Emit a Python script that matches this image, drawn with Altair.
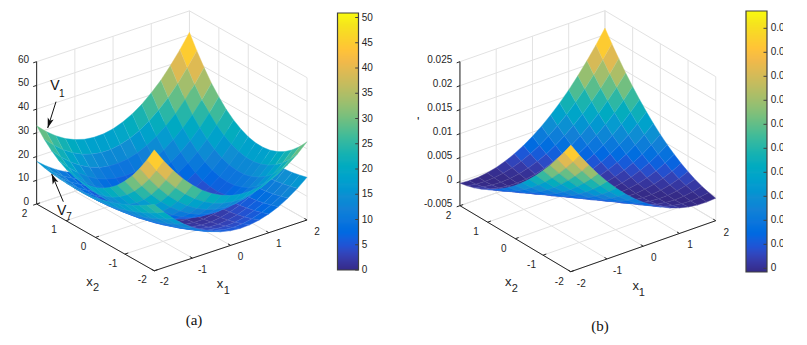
import altair as alt
import math

# ---------- values ----------
# rows: x2 = -2 ... 2 in steps of 0.25, columns: x1 = -2 ... 2 in steps of 0.25
GRID = [-2, -1.75, -1.5, -1.25, -1, -0.75, -0.5, -0.25, 0, 0.25, 0.5, 0.75, 1, 1.25, 1.5, 1.75, 2]

V1 = [
[51.0,45.0,39.6,34.8,30.8,27.3,24.6,22.5,21.0,20.2,20.1,20.6,21.8,23.6,26.1,29.2,33.0],
[45.0,39.1,33.8,29.2,25.3,22.0,19.4,17.4,16.1,15.4,15.4,16.1,17.4,19.4,22.0,25.3,29.2],
[39.6,33.8,28.7,24.2,20.4,17.3,14.8,13.0,11.8,11.3,11.4,12.2,13.7,15.8,18.6,22.0,26.1],
[34.8,29.2,24.2,19.9,16.3,13.3,10.9,9.2,8.2,7.8,8.1,9.1,10.6,12.9,15.8,19.4,23.6],
[30.8,25.3,20.4,16.3,12.8,9.9,7.7,6.1,5.3,5.0,5.4,6.5,8.3,10.6,13.7,17.4,21.8],
[27.3,22.0,17.3,13.3,9.9,7.2,5.1,3.7,3.0,2.9,3.4,4.6,6.5,9.1,12.2,16.1,20.6],
[24.6,19.4,14.8,10.9,7.7,5.1,3.2,1.9,1.3,1.4,2.1,3.4,5.4,8.1,11.4,15.4,20.1],
[22.5,17.4,13.0,9.2,6.1,3.7,1.9,0.8,0.3,0.5,1.4,2.9,5.0,7.8,11.3,15.4,20.2],
[21.0,16.1,11.8,8.2,5.3,3.0,1.3,0.3,0.0,0.3,1.3,3.0,5.3,8.2,11.8,16.1,21.0],
[20.2,15.4,11.3,7.8,5.0,2.9,1.4,0.5,0.3,0.8,1.9,3.7,6.1,9.2,13.0,17.4,22.5],
[20.1,15.4,11.4,8.1,5.4,3.4,2.1,1.4,1.3,1.9,3.2,5.1,7.7,10.9,14.8,19.4,24.6],
[20.6,16.1,12.2,9.1,6.5,4.6,3.4,2.9,3.0,3.7,5.1,7.2,9.9,13.3,17.3,22.0,27.3],
[21.8,17.4,13.7,10.6,8.3,6.5,5.4,5.0,5.3,6.1,7.7,9.9,12.8,16.3,20.4,25.3,30.8],
[23.6,19.4,15.8,12.9,10.6,9.1,8.1,7.8,8.2,9.2,10.9,13.3,16.3,19.9,24.2,29.2,34.8],
[26.1,22.0,18.6,15.8,13.7,12.2,11.4,11.3,11.8,13.0,14.8,17.3,20.4,24.2,28.7,33.8,39.6],
[29.2,25.3,22.0,19.4,17.4,16.1,15.4,15.4,16.1,17.4,19.4,22.0,25.3,29.2,33.8,39.1,45.0],
[33.0,29.2,26.1,23.6,21.8,20.6,20.1,20.2,21.0,22.5,24.6,27.3,30.8,34.8,39.6,45.0,51.0],
]

V7 = [
[28.0,23.4,19.4,15.9,12.9,10.4,8.5,7.1,6.2,5.8,6.0,6.7,7.9,9.6,11.9,14.7,18.0],
[25.9,21.4,17.5,14.0,11.1,8.8,6.9,5.6,4.8,4.5,4.7,5.5,6.8,8.6,10.9,13.8,17.2],
[24.0,19.6,15.8,12.4,9.6,7.3,5.5,4.2,3.5,3.3,3.6,4.4,5.8,7.7,10.1,13.1,16.5],
[22.3,18.0,14.2,10.9,8.2,6.0,4.3,3.1,2.4,2.3,2.7,3.6,5.1,7.0,9.5,12.5,16.1],
[20.9,16.6,12.9,9.7,7.0,4.9,3.2,2.1,1.6,1.5,2.0,3.0,4.5,6.6,9.1,12.2,15.9],
[19.5,15.4,11.7,8.6,6.0,3.9,2.4,1.4,0.9,0.9,1.5,2.5,4.1,6.3,8.9,12.1,15.8],
[18.4,14.3,10.8,7.7,5.2,3.2,1.8,0.8,0.4,0.5,1.1,2.3,4.0,6.2,8.9,12.2,15.9],
[17.5,13.5,10.0,7.1,4.6,2.7,1.3,0.4,0.1,0.3,1.0,2.2,4.0,6.3,9.1,12.4,16.3],
[16.8,12.9,9.5,6.6,4.2,2.4,1.1,0.3,0.0,0.3,1.1,2.4,4.2,6.6,9.5,12.9,16.8],
[16.3,12.4,9.1,6.3,4.0,2.2,1.0,0.3,0.1,0.4,1.3,2.7,4.6,7.1,10.0,13.5,17.5],
[15.9,12.2,8.9,6.2,4.0,2.3,1.1,0.5,0.4,0.8,1.8,3.2,5.2,7.7,10.8,14.3,18.4],
[15.8,12.1,8.9,6.3,4.1,2.5,1.5,0.9,0.9,1.4,2.4,3.9,6.0,8.6,11.7,15.4,19.5],
[15.9,12.2,9.1,6.6,4.5,3.0,2.0,1.5,1.6,2.1,3.2,4.9,7.0,9.7,12.9,16.6,20.9],
[16.1,12.5,9.5,7.0,5.1,3.6,2.7,2.3,2.4,3.1,4.3,6.0,8.2,10.9,14.2,18.0,22.3],
[16.5,13.1,10.1,7.7,5.8,4.4,3.6,3.3,3.5,4.2,5.5,7.3,9.6,12.4,15.8,19.6,24.0],
[17.2,13.8,10.9,8.6,6.8,5.5,4.7,4.5,4.8,5.6,6.9,8.8,11.1,14.0,17.5,21.4,25.9],
[18.0,14.7,11.9,9.6,7.9,6.7,6.0,5.8,6.2,7.1,8.5,10.4,12.9,15.9,19.4,23.4,28.0],
]

# panel (b), values in units of 0.001
VB = [
[21.39,18.53,15.88,13.42,11.16,9.11,7.25,5.60,4.14,2.88,1.83,0.97,0.32,-0.14,-0.40,-0.45,-0.31],
[18.99,16.31,13.82,11.53,9.45,7.56,5.87,4.39,3.10,2.01,1.13,0.44,-0.05,-0.33,-0.42,-0.31,0.01],
[16.74,14.22,11.90,9.79,7.87,6.15,4.63,3.32,2.20,1.28,0.57,0.05,-0.27,-0.39,-0.30,-0.02,0.46],
[14.61,12.26,10.12,8.17,6.42,4.87,3.53,2.38,1.43,0.68,0.13,-0.21,-0.36,-0.31,-0.06,0.40,1.05],
[12.63,10.46,8.48,6.70,5.12,3.74,2.57,1.59,0.81,0.23,-0.15,-0.32,-0.30,-0.08,0.34,0.96,1.79],
[10.79,8.78,6.97,5.36,3.95,2.75,1.74,0.93,0.32,-0.08,-0.29,-0.31,-0.11,0.28,0.87,1.66,2.65],
[9.09,7.25,5.61,4.18,2.94,1.90,1.06,0.42,-0.02,-0.26,-0.30,-0.14,0.22,0.78,1.55,2.51,3.67],
[7.53,5.86,4.39,3.12,2.05,1.18,0.51,0.04,-0.23,-0.30,-0.17,0.16,0.69,1.42,2.35,3.48,4.81],
[6.10,4.60,3.30,2.20,1.30,0.60,0.10,-0.20,-0.30,-0.20,0.10,0.60,1.30,2.20,3.30,4.60,6.10],
[4.81,3.48,2.35,1.42,0.69,0.16,-0.17,-0.30,-0.23,0.04,0.51,1.18,2.05,3.12,4.39,5.86,7.53],
[3.67,2.51,1.55,0.78,0.22,-0.14,-0.30,-0.26,-0.02,0.42,1.06,1.90,2.94,4.18,5.61,7.25,9.09],
[2.65,1.66,0.87,0.28,-0.11,-0.31,-0.29,-0.08,0.32,0.93,1.74,2.75,3.95,5.36,6.97,8.78,10.79],
[1.79,0.96,0.34,-0.08,-0.30,-0.32,-0.15,0.23,0.81,1.59,2.57,3.74,5.12,6.70,8.48,10.46,12.63],
[1.05,0.40,-0.06,-0.31,-0.36,-0.21,0.13,0.68,1.43,2.38,3.53,4.87,6.42,8.17,10.12,12.26,14.61],
[0.46,-0.02,-0.30,-0.39,-0.27,0.05,0.57,1.28,2.20,3.32,4.63,6.15,7.87,9.79,11.90,14.22,16.74],
[0.01,-0.31,-0.42,-0.33,-0.05,0.44,1.13,2.01,3.10,4.39,5.87,7.56,9.45,11.53,13.82,16.31,18.99],
[-0.31,-0.45,-0.40,-0.14,0.32,0.97,1.83,2.88,4.14,5.60,7.25,9.11,11.16,13.42,15.88,18.53,21.39],
]

XTICKS = [-2, -1, 0, 1, 2]
Z_TICKS_A = [0, 10, 20, 30, 40, 50, 60]
Z_TICKS_B = [-0.005, 0, 0.005, 0.01, 0.015, 0.02, 0.025]
Z_LABELS_B = ["-0.005", "0", "0.005", "0.01", "0.015", "0.02", "0.025"]
CB_TICKS_A = [0, 5, 10, 15, 20, 25, 30, 35, 40, 45, 50]
CB_TICKS_B = [0, 0.002, 0.004, 0.006, 0.008, 0.01, 0.012, 0.014, 0.016, 0.018, 0.02]
CB_DOMAIN_A = [0, 51]
CB_DOMAIN_B = [-0.0003, 0.0214]

PARULA = ["#352a87", "#353dad", "#2053d4", "#0268e1", "#0d75dc", "#1481d6", "#108ed2", "#079ccf",
          "#06a7c6", "#0faeb9", "#25b5a9", "#42bb98", "#65be86", "#87bf77", "#a5be6b", "#c0bc60",
          "#d9ba56", "#f1b94a", "#ffc337", "#fad32a", "#f5e41d", "#f9fb0e"]
TEXT = "#262626"
GRIDC = "#e2e2e2"
FONT = "Liberation Sans"
SERIF = "Liberation Serif"

# panel geometry: floor centre, unit vectors of x1 and x2, z scale, floor z
PA = dict(c=(171.85, 212.0), ex=(38.2, -12.7), ey=(-29.4, -16.7), zs=2.372, z0=0.0)
PB = dict(c=(587.85, 213.2), ex=(36.25, -12.75), ey=(-27.7, -16.5), zs=4800.0, z0=-0.005)


def proj(p, x1, x2, z):
    z0 = p["z0"] if z is None else z
    return (p["c"][0] + p["ex"][0] * x1 + p["ey"][0] * x2,
            p["c"][1] + p["ex"][1] * x1 + p["ey"][1] * x2 - p["zs"] * (z0 - p["z0"]))


def cells(p, grids):
    """Quads of every surface, ordered back to front for a painter's sort."""
    out = []
    d1, d2 = -p["ey"][0], p["ex"][0]
    for g, m in grids:
        for r in range(16):
            for c in range(16):
                idx = [(r, c), (r, c + 1), (r + 1, c + 1), (r + 1, c)]
                ring = [proj(p, GRID[b], GRID[a], m[a][b] * g) for a, b in idx]
                ring.append(ring[0])
                z = sum(m[a][b] for a, b in idx) / 4 * g
                depth = d1 * (GRID[c] + 0.125) + d2 * (GRID[r] + 0.125)
                out.append((depth, {"type": "Feature", "properties": {"z": z},
                                    "geometry": {"type": "Polygon",
                                                 "coordinates": [[[round(x, 2), round(y, 2)] for x, y in ring]]}}))
    out.sort(key=lambda t: -round(t[0], 4))
    return [f for _, f in out]


def mix(h, t=0.12):
    v = [int(h[i:i + 2], 16) for i in (1, 3, 5)]
    return "#%02x%02x%02x" % tuple(int(round(a + (255 - a) * t)) for a in v)


def color_scale(dom, rng):
    n = len(rng) - 1
    return alt.Scale(domain=[dom[0] + (dom[1] - dom[0]) * k / n for k in range(n + 1)], range=rng)


XS = alt.Scale(domain=[8, 799], range=[0, 791], nice=False, zero=False)
YS = alt.Scale(domain=[8, 337], range=[0, 329], nice=False, zero=False)
X = alt.X("x:Q", scale=XS, axis=None)
Y = alt.Y("y:Q", scale=YS, axis=None)


def rules(segs, color, width=1.0):
    data = [dict(x=a[0], y=a[1], x2=b[0], y2=b[1]) for a, b in segs]
    return alt.Chart(alt.Data(values=data)).mark_rule(color=color, strokeWidth=width).encode(
        x=X, y=Y, x2="x2:Q", y2="y2:Q")


def texts(rows, align="center", size=10, font=FONT, color=TEXT):
    data = [dict(x=r[0], y=r[1], t=r[2]) for r in rows]
    return alt.Chart(alt.Data(values=data)).mark_text(
        align=align, baseline="middle", fontSize=size, font=font, color=color
    ).encode(x=X, y=Y, text="t:N")


def surface(p, grids, dom):
    return alt.Chart(alt.Data(values=cells(p, grids))).mark_geoshape(strokeWidth=0.4).encode(
        color=alt.Color("properties.z:Q", scale=color_scale(dom, PARULA), legend=None),
        stroke=alt.Stroke("properties.z:Q", scale=color_scale(dom, [mix(h) for h in PARULA]), legend=None),
    ).project(type="identity", scale=1, translate=[-8, -8])


def frame(p, zticks):
    zlo, zhi = zticks[0], zticks[-1]
    grid, axis = [], []
    for t in XTICKS:
        grid.append((proj(p, t, 2, zlo), proj(p, t, 2, zhi)))      # back-left wall
        grid.append((proj(p, 2, t, zlo), proj(p, 2, t, zhi)))      # back-right wall
        grid.append((proj(p, t, -2, zlo), proj(p, t, 2, zlo)))     # floor
        grid.append((proj(p, -2, t, zlo), proj(p, 2, t, zlo)))     # floor
        axis.append((proj(p, t, -2, zlo), proj(p, t, -2 + 0.09, zlo)))
        axis.append((proj(p, -2, t, zlo), proj(p, -2 + 0.09, t, zlo)))
    for z in zticks:
        grid.append((proj(p, -2, 2, z), proj(p, 2, 2, z)))
        grid.append((proj(p, 2, 2, z), proj(p, 2, -2, z)))
        axis.append((proj(p, -2, 2, z), proj(p, -2.09, 2, z)))
    axis.append((proj(p, -2, 2, zlo), proj(p, -2, 2, zhi)))
    axis.append((proj(p, -2, 2, zlo), proj(p, -2, -2, zlo)))
    axis.append((proj(p, -2, -2, zlo), proj(p, 2, -2, zlo)))
    return grid, axis


def colorbar(x0, x1, y_top, y_bot, dom):
    data = []
    for y in range(int(y_top), int(y_bot)):
        v = dom[1] - (y + 0.5 - y_top) / (y_bot - y_top) * (dom[1] - dom[0])
        data.append(dict(x=x0, x2=x1, y=y, y2=y + 1, v=v))
    return alt.Chart(alt.Data(values=data)).mark_rect().encode(
        x=X, y=Y, x2="x2:Q", y2="y2:Q",
        color=alt.Color("v:Q", scale=color_scale(dom, PARULA), legend=None))


layers = []
ga, aa = frame(PA, Z_TICKS_A)
gb, ab = frame(PB, Z_TICKS_B)
layers.append(rules(ga + gb, GRIDC))
layers.append(rules(aa + ab, TEXT))
layers.append(surface(PA, [(1.0, V7), (1.0, V1)], CB_DOMAIN_A))
layers.append(surface(PB, [(0.001, VB)], CB_DOMAIN_B))

# colour bars
CA = (337.5, 358.5, 13, 270)
CB = (746, 767, 11, 272)
layers.append(colorbar(*CA, CB_DOMAIN_A))
layers.append(colorbar(*CB, CB_DOMAIN_B))
frames = [dict(x=c[0], x2=c[1], y=c[2], y2=c[3]) for c in (CA, CB)]
layers.append(alt.Chart(alt.Data(values=frames)).mark_rect(
    filled=False, stroke="#404040", strokeWidth=1.2).encode(x=X, y=Y, x2="x2:Q", y2="y2:Q"))


def cb_y_a(v):
    return 270 - v * 5.05


def cb_y_b(v):
    return 268.3 - v / 0.002 * 24


layers.append(rules([((355.2, cb_y_a(v)), (358.5, cb_y_a(v))) for v in CB_TICKS_A] +
                    [((763.5, cb_y_b(v)), (767, cb_y_b(v))) for v in CB_TICKS_B], "#404040"))

# tick labels
layers.append(texts([(29, proj(PA, -2, 2, z)[1] - 2, str(z)) for z in Z_TICKS_A] +
                    [(452.3, proj(PB, -2, 2, z)[1] - 2, s) for z, s in zip(Z_TICKS_B, Z_LABELS_B)], align="right"))
xt = []
for t in XTICKS:
    a = proj(PA, -2, t, None); xt.append((a[0] - 12, a[1] + 9.5, str(t)))
    a = proj(PA, t, -2, None); xt.append((a[0] + 10, a[1] + 11.5, str(t)))
    a = proj(PB, -2, t, None); xt.append((a[0] - 11.5, a[1] + 10, str(t)))
    a = proj(PB, t, -2, None); xt.append((a[0] + 10.5, a[1] + 12, str(t)))
layers.append(texts(xt))
layers.append(texts([(361.7, cb_y_a(v), str(v)) for v in CB_TICKS_A] +
                    [(770.7, cb_y_b(v), str(v)) for v in CB_TICKS_B], align="left"))

# axis titles, annotations
layers.append(texts([(89.5, 281.5, "x"), (220, 283.5, "x"), (508.3, 282, "x"), (635.7, 285.5, "x"),
                     (418.3, 122, "'")], size=13))
layers.append(texts([(96, 288, "2"), (226.7, 291, "1"), (514.7, 289, "2"), (641.7, 293, "1")], size=11))
layers.append(texts([(55, 86, "V"), (61.7, 210.5, "V")], size=14, color="#111111"))
layers.append(texts([(61.7, 94, "1"), (69, 217, "7")], size=10, color="#111111"))
layers.append(texts([(194, 320, "(a)"), (600, 326, "(b)")], size=15, font=SERIF, color="#111111"))

# arrows
ARROWS = [((56, 101.7), (47.7, 128)), ((63.3, 201.7), (51.7, 174))]
layers.append(rules(ARROWS, "#111111", 1.0))
HEAD = "M0,-1 L0.62,1 L0,0.5 L-0.62,1 Z"
for (a, b) in ARROWS:
    ang = math.degrees(math.atan2(b[0] - a[0], -(b[1] - a[1]))) % 360
    L = math.hypot(b[0] - a[0], b[1] - a[1])
    hx, hy = b[0] - (b[0] - a[0]) / L * 5, b[1] - (b[1] - a[1]) / L * 5
    layers.append(alt.Chart(alt.Data(values=[dict(x=hx, y=hy)])).mark_point(
        shape=HEAD, size=100, filled=True, color="#111111", opacity=1, angle=ang, strokeWidth=0
    ).encode(x=X, y=Y))

# the colour bar labels of (b) are cut by the edge of the picture
layers.append(alt.Chart(alt.Data(values=[dict(x=783, x2=799, y=8, y2=337)])).mark_rect(color="white").encode(
    x=X, y=Y, x2="x2:Q", y2="y2:Q"))

chart = alt.layer(*layers).resolve_scale(color="independent", stroke="independent").properties(
    width=791, height=329, padding=0, background="white",
    autosize=alt.AutoSizeParams(type="none"),
).configure_view(stroke=None)

chart.save("out.html", embed_options={"renderer": "svg", "actions": False})
